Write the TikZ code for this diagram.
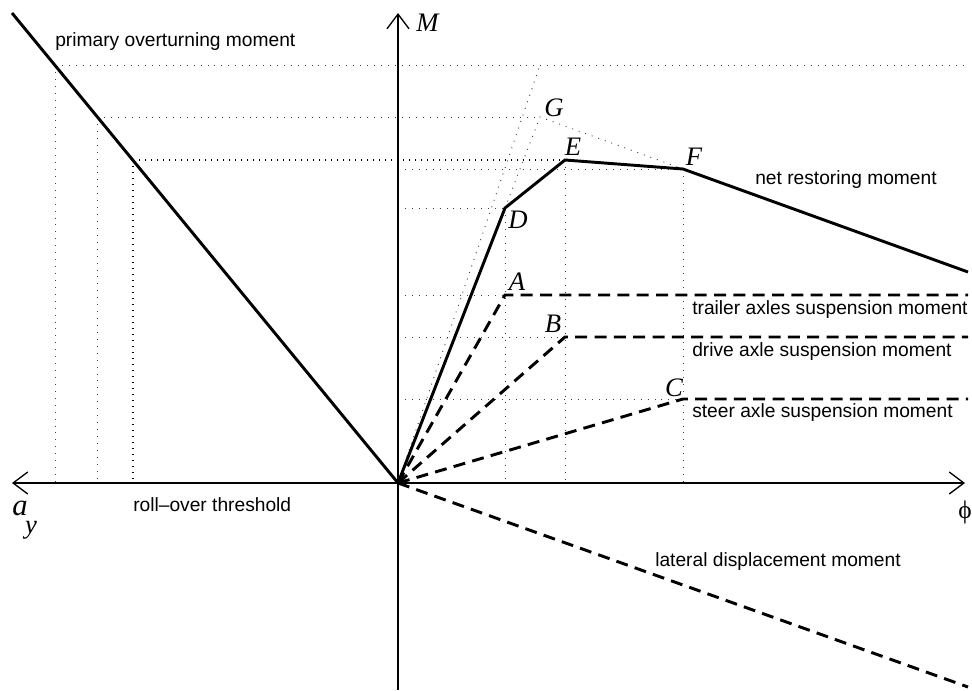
\documentclass[tikz,border=0pt]{standalone}
\usepackage{fontspec}
\setmainfont{Liberation Sans}
\newfontfamily\timesfont{Liberation Serif}
\usetikzlibrary{arrows.meta}
\tikzset{
	axis/.style={line width=1pt},
	barb/.tip={Straight Barb[length=11pt,width=16.5pt]},
	grid/.style={black!75,line width=0.7pt,dash pattern=on 0.7pt off 4.5pt},
	threshold/.style={black,line width=2pt,dash pattern=on 0.8pt off 3.7pt},
	moment/.style={line width=2.2pt,line join=miter},
	part/.style={line width=2.2pt,dash pattern=on 9pt off 5.5pt},
	lbl/.style={inner sep=0pt,font=\fontsize{14.4}{17}\selectfont},
	pt/.style={inner sep=0pt,font=\fontsize{20}{24}\timesfont\itshape}
}
\begin{document}
\begin{tikzpicture}[x=0.75pt,y=-0.75pt]
				\useasboundingbox (0,0) rectangle (972,690);
				\coordinate (O) at (398,483);
				\coordinate (Ytop) at (398,13);
				\coordinate (Ybot) at (398,690);
				\coordinate (Xl) at (12,483);
				\coordinate (Xr) at (965,483);
				\coordinate (P0) at (12,13);
				\coordinate (P1) at (55,65);
				\coordinate (P2) at (97,117);
				\coordinate (P3) at (133,160);
				\coordinate (A) at (505,295);
				\coordinate (B) at (565,337);
				\coordinate (C) at (683,399);
				\coordinate (D) at (505,208);
				\coordinate (E) at (565,160);
				\coordinate (F) at (683,169);
				\coordinate (G) at (540,117);
				\coordinate (H) at (540,65);
				\coordinate (Rend) at (968,272);
				\coordinate (Lend) at (968,687);
				\draw[grid] (P1) -- (965,65);
				\draw[grid] (P2) -- (G);
				\draw[grid] (O |- F) -- (F);
				\draw[grid] (O |- D) -- (D);
				\draw[grid] (O |- A) -- (A);
				\draw[grid] (O |- B) -- (B);
				\draw[grid] (O |- C) -- (C);
				\draw[grid] (P1) -- (P1 |- O);
				\draw[grid] (P2) -- (P2 |- O);
				\draw[grid] (D) -- (D |- O);
				\draw[grid] (E) -- (E |- O);
				\draw[grid] (F) -- (F |- O);
				\draw[grid] (O) -- (H);
				\draw[grid] (D) -- (G) -- (F);
				\draw[threshold] (P3) -- (E);
				\draw[threshold] (P3) -- (P3 |- O);
				\draw[axis,-barb] (Ybot) -- (Ytop);
				\draw[axis,barb-barb] (Xl) -- (Xr);
				\draw[moment] (P0) -- (O);
				\draw[moment] (O) -- (D) -- (E) -- (F) -- (Rend);
				\draw[part] (O) -- (A) -- (A -| Rend);
				\draw[part] (O) -- (B) -- (B -| Rend);
				\draw[part] (O) -- (C) -- (C -| Rend);
				\draw[part] (O) -- (Lend);
				\node[pt,anchor=west] (Mlbl) at (416,23) {M};
				\node[pt] (Albl) at (517,282) {A};
				\node[pt] (Blbl) at (553,324) {B};
				\node[pt] (Clbl) at (674,388) {C};
				\node[pt] (Dlbl) at (518,220) {D};
				\node[pt] (Elbl) at (573,147) {E};
				\node[pt] (Flbl) at (694,157) {F};
				\node[pt] (Glbl) at (554,108) {G};
				\node[pt,font=\fontsize{23}{27}\timesfont\itshape,anchor=base] (aylbl) at (20,515) {a};
				\node[pt,font=\fontsize{20}{24}\timesfont\itshape,anchor=north] (aysub) at (31,521) {y};
				\node[pt,font=\fontsize{19}{23}\timesfont] (philbl) at (965,512) {ϕ};
				\node[lbl,anchor=west] (over) at (55,42) {primary overturning moment};
				\node[lbl] (net) at (846,180) {net restoring moment};
				\node[lbl,anchor=west] (trailer) at (692,310) {trailer axles suspension moment};
				\node[lbl,anchor=west] (drive) at (692,352) {drive axle suspension moment};
				\node[lbl,anchor=west] (steer) at (692,413) {steer axle suspension moment};
				\node[lbl,anchor=west] (roll) at (133,505) {roll–over threshold};
				\node[lbl,anchor=west] (lateral) at (655,562) {lateral displacement moment};
				\end{tikzpicture}
\end{document}
